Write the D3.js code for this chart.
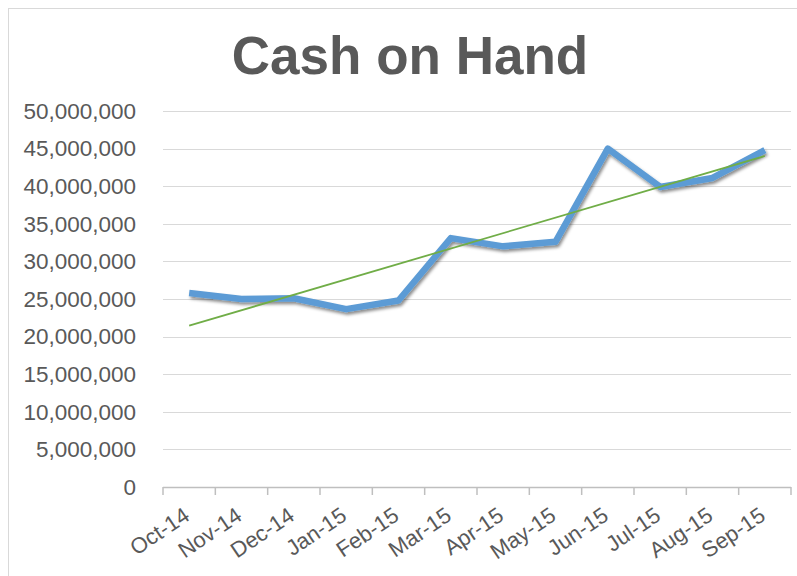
<!DOCTYPE html>
<html>
<head>
<meta charset="utf-8">
<script src="https://cdn.jsdelivr.net/npm/d3@7"></script>
<style>
  body{margin:0;background:#fff;}
  svg{display:block;font-family:"Liberation Sans",Arial,sans-serif;}
</style>
</head>
<body>
<svg id="drawing_region"></svg>
<script>
// data
const months = ["Oct-14","Nov-14","Dec-14","Jan-15","Feb-15","Mar-15","Apr-15","May-15","Jun-15","Jul-15","Aug-15","Sep-15"]
const cash = [25800000,25000000,25100000,23650000,24800000,33100000,32000000,32600000,45000000,39900000,41100000,44800000]
const yticks = [0,5000000,10000000,15000000,20000000,25000000,30000000,35000000,40000000,45000000,50000000]

const config = {
    width:797,
    height:576,
    margin:{top:111,right:6,bottom:89,left:163}
}
const inner_width = config.width-config.margin.left-config.margin.right
const inner_height = config.height-config.margin.top-config.margin.bottom

const svg = d3.select("#drawing_region")
    .attr("width",config.width)
    .attr("height",config.height)

const defs = svg.append("defs")
const shadow = defs.append("filter").attr("id","shadow")
    .attr("x","-10%").attr("y","-10%").attr("width","120%").attr("height","130%")
shadow.append("feDropShadow")
    .attr("dx",1.5).attr("dy",2.5).attr("stdDeviation",1.8)
    .attr("flood-color","#000").attr("flood-opacity",0.45)

// chart frame
svg.append("rect")
    .attr("x",8.5).attr("y",8.5)
    .attr("width",config.width+20).attr("height",config.height+20)
    .attr("fill","#fff").attr("stroke","#d9d9d9")

svg.append("text")
    .attr("x",410)
    .attr("y",74)
    .attr("text-anchor","middle")
    .attr("font-weight","bold")
    .attr("font-size",53)
    .attr("fill","#595959")
    .text("Cash on Hand")

const chart = svg.append("g")
    .attr("transform",`translate(${config.margin.left},${config.margin.top})`)

const xscale = d3.scaleBand()
    .domain(months)
    .range([0,inner_width])
const yscale = d3.scaleLinear()
    .domain([0,50000000])
    .range([inner_height,0])

// gridlines
chart.append("g")
    .selectAll("line")
    .data(yticks.slice(1))
    .join("line")
    .attr("x1",0).attr("x2",inner_width)
    .attr("y1",d=>Math.round(yscale(d))+0.5)
    .attr("y2",d=>Math.round(yscale(d))+0.5)
    .attr("stroke","#d9d9d9")
    .attr("stroke-width",1.2)

// y axis labels
const yaxis = d3.axisLeft(yscale)
    .tickValues(yticks)
    .tickFormat(d3.format(","))
    .tickSize(0)
    .tickPadding(27)
chart.append("g")
    .call(yaxis)
    .call(g=>g.select(".domain").remove())
    .selectAll("text")
    .attr("font-size",22.5)
    .attr("font-family","Liberation Sans, Arial, sans-serif")
    .attr("fill","#595959")

// x axis
const xaxis_group = chart.append("g")
    .attr("transform",`translate(0,${inner_height})`)
xaxis_group.append("line")
    .attr("x1",0).attr("x2",inner_width)
    .attr("y1",0.5).attr("y2",0.5)
    .attr("stroke","#bfbfbf").attr("stroke-width",1.5)
xaxis_group.selectAll("line.tick")
    .data(months.concat(["end"]))
    .join("line")
    .attr("class","tick")
    .attr("x1",(d,i)=>i*xscale.step()).attr("x2",(d,i)=>i*xscale.step())
    .attr("y1",0).attr("y2",8)
    .attr("stroke","#bfbfbf").attr("stroke-width",1.5)
xaxis_group.selectAll("text")
    .data(months)
    .join("text")
    .attr("transform",d=>`translate(${xscale(d)+xscale.bandwidth()/2+2},${32}) rotate(-34)`)
    .attr("text-anchor","end")
    .attr("font-size",22)
    .attr("fill","#595959")
    .text(d=>d)

const xpos = d=>xscale(d)+xscale.bandwidth()/2

// blue series
const line = d3.line()
    .x((d,i)=>xpos(months[i]))
    .y(d=>yscale(d))
chart.append("path")
    .datum(cash)
    .attr("d",line)
    .attr("fill","none")
    .attr("stroke","#5b9bd5")
    .attr("stroke-width",6.5)
    .attr("stroke-linejoin","round")
    .attr("filter","url(#shadow)")

// linear trendline (least squares over the series)
const n = cash.length
const xmean = d3.mean(cash,(d,i)=>i)
const ymean = d3.mean(cash)
const slope = d3.sum(cash,(d,i)=>(i-xmean)*(d-ymean))/d3.sum(cash,(d,i)=>(i-xmean)*(i-xmean))
const intercept = ymean-slope*xmean
chart.append("line")
    .attr("x1",xpos(months[0])).attr("y1",yscale(intercept))
    .attr("x2",xpos(months[n-1])).attr("y2",yscale(intercept+slope*(n-1)))
    .attr("stroke","#70ad47")
    .attr("stroke-width",1.8)
</script>
</body>
</html>
